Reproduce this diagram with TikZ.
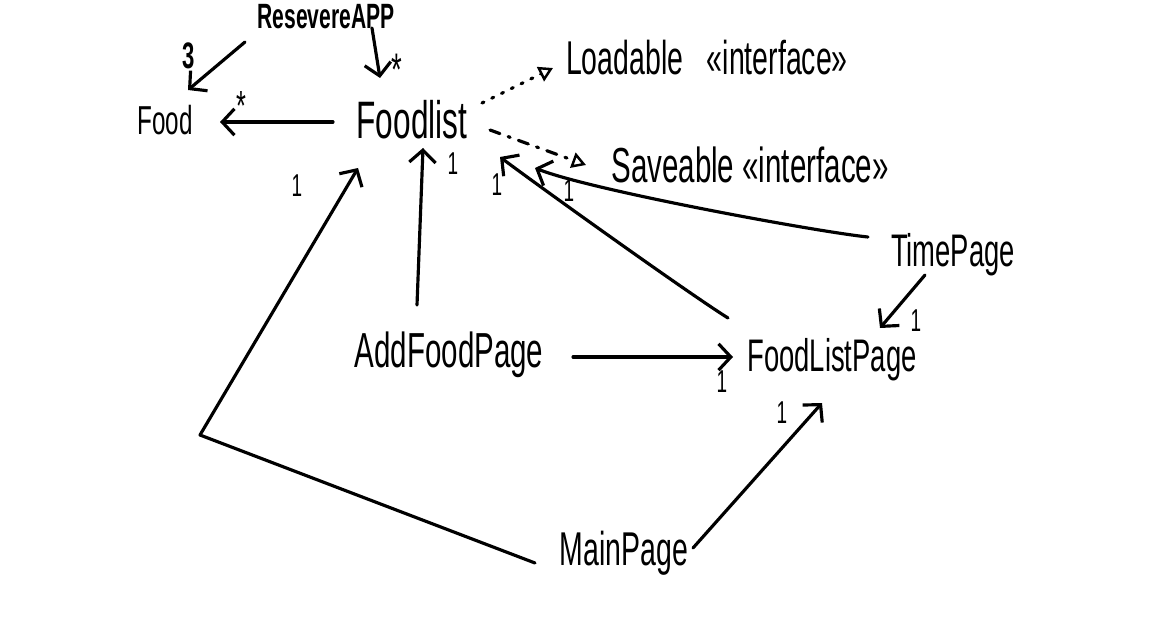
\documentclass[tikz,border=0pt]{standalone}
\usepackage{fontspec}
\newfontfamily\hand[FakeStretch=0.6]{Liberation Sans}
\usetikzlibrary{arrows.meta}
\begin{document}
\begin{tikzpicture}[x=0.02cm,y=-0.02cm,line width=1.8pt,line cap=round,line join=round,
  cls/.style={inner sep=0pt,font=\hand\fontsize{#1}{#1}\selectfont},
  mult/.style={inner sep=0pt,font=\hand\fontsize{18}{18}\selectfont},
  assoc/.style={-{Straight Barb[length=7pt,width=15pt]}},
  realize/.style={-{Triangle[open,length=8pt,width=9pt,line width=1.4pt]}},
  dotline/.style={realize,dash pattern=on 1.2pt off 5pt},
  dashdotline/.style={realize,dash pattern=on 6pt off 5pt on 1.2pt off 5pt}]
\useasboundingbox (0,0) rectangle (1155,628);
% classes
\node[cls=20,font=\hand\bfseries\fontsize{20}{20}\selectfont] (app) at (326,17) {ResevereAPP};
\node[cls=23] (food) at (165,120) {Food};
\node[cls=30] (foodlist) at (412,120) {Foodlist};
\node[cls=27] (loadable) at (707,58) {Loadable\enspace«interface»};
\node[cls=28] (saveable) at (750,165) {Saveable «interface»};
\node[cls=26] (time) at (953,255) {TimePage};
\node[cls=26] (flpage) at (832,360) {FoodListPage};
\node[cls=28] (addfood) at (449,355) {AddFoodPage};
\node[cls=27] (main) at (624,553) {MainPage};
\coordinate (bend) at (200,435);
% connectors
\draw[assoc] ([shift={(-81,25)}]app.center) -- ([shift={(23,-30)}]food.center);
\draw[assoc] ([shift={(46,11)}]app.center) -- ([shift={(-32,-42)}]foodlist.center);
\draw[assoc] ([shift={(-79,2)}]foodlist.center) -- ([shift={(55,2)}]food.center);
\draw[dotline] ([shift={(70,-17)}]foodlist.center) -- ([shift={(-154,10)}]loadable.center);
\draw[dashdotline] ([shift={(78,10)}]foodlist.center) -- ([shift={(-164,0)}]saveable.center);
\draw[assoc] ([shift={(-85,-18)}]time.center) .. controls +(-50,-5) and +(55,22) .. ([shift={(123,48)}]foodlist.center);
\draw[assoc] ([shift={(-104,-42)}]flpage.center) .. controls +(-40,-25) and +(40,30) .. ([shift={(88,37)}]foodlist.center);
\draw[assoc] ([shift={(-32,-50)}]addfood.center) -- ([shift={(11,28)}]foodlist.center);
\draw[assoc] ([shift={(-89,10)}]main.center) -- (bend) -- ([shift={(-54,48)}]foodlist.center);
\draw[assoc] ([shift={(124,2)}]addfood.center) -- ([shift={(-99,-3)}]flpage.center);
\draw[assoc] ([shift={(-28,20)}]time.center) -- ([shift={(48,-32)}]flpage.center);
\draw[assoc] ([shift={(69,-5)}]main.center) -- ([shift={(-10,43)}]flpage.center);
% multiplicities
\node[mult,font=\hand\bfseries\fontsize{21}{21}\selectfont] (m1) at (189,56) {3};
\node[mult,anchor=north,font=\hand\fontsize{26}{26}\selectfont] (m2) at (397,52) {*};
\node[mult,anchor=north,font=\hand\fontsize{24}{24}\selectfont] (m3) at (241,90) {*};
\node[mult] (m4) at (297,186) {1};
\node[mult] (m5) at (453,164) {1};
\node[mult] (m6) at (497,185) {1};
\node[mult] (m7) at (569,191) {1};
\node[mult] (m8) at (722,382) {1};
\node[mult] (m9) at (916,321) {1};
\node[mult] (m10) at (782,413) {1};
\end{tikzpicture}
\end{document}
